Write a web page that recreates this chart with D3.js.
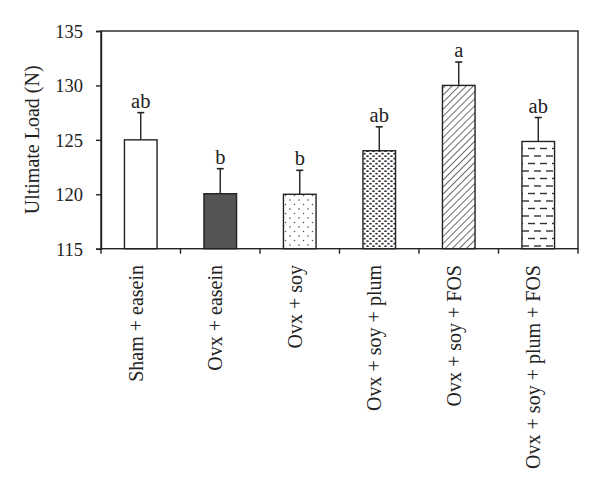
<!DOCTYPE html>
<html><head><meta charset="utf-8">
<script src="https://cdn.jsdelivr.net/npm/d3@7/dist/d3.min.js"></script>
<style>body{margin:0;background:#fff}svg{display:block}text{font-family:"Liberation Serif","Times New Roman",serif;fill:#222}</style>
</head><body><svg id="c" width="600" height="496"></svg>
<script>
const categories = ["Sham + easein","Ovx + easein","Ovx + soy","Ovx + soy + plum","Ovx + soy + FOS","Ovx + soy + plum + FOS"];
const values = [125.0, 120.05, 120.0, 124.0, 130.0, 124.85];
const errors = [2.5, 2.3, 2.2, 2.2, 2.15, 2.2];
const letters = ["ab","b","b","ab","a","ab"];
const yTicks = [115,120,125,130,135];
const fills = ["#ffffff","#555555","url(#pDots)","url(#pPlum)","url(#pHatch)","url(#pDash)"];

const svg = d3.select("#c");
const L=101, R=578, T=31, B=248.7;
const x = d3.scaleBand().domain(categories).range([L,R]).padding(0);
const y = d3.scaleLinear().domain([115,135]).range([B,T]);
const bw = x.bandwidth()*0.41;

const defs = svg.append("defs");
// sparse dots
let p = defs.append("pattern").attr("id","pDots").attr("patternUnits","userSpaceOnUse").attr("width",9).attr("height",9);
p.append("rect").attr("width",9).attr("height",9).attr("fill","#fff");
p.append("circle").attr("cx",2).attr("cy",2).attr("r",0.75).attr("fill","#333");
p.append("circle").attr("cx",6.5).attr("cy",6.5).attr("r",0.75).attr("fill","#555");
// dense plum pattern
p = defs.append("pattern").attr("id","pPlum").attr("patternUnits","userSpaceOnUse").attr("width",6).attr("height",5);
p.append("rect").attr("width",6).attr("height",5).attr("fill","#fff");
p.append("ellipse").attr("cx",1.5).attr("cy",1.2).attr("rx",1.3).attr("ry",0.9).attr("fill","#2a2a3a");
p.append("ellipse").attr("cx",4.5).attr("cy",3.7).attr("rx",1.3).attr("ry",0.9).attr("fill","#3a2a2a");
// diagonal hatch
p = defs.append("pattern").attr("id","pHatch").attr("patternUnits","userSpaceOnUse").attr("width",5).attr("height",5).attr("patternTransform","rotate(45)");
p.append("rect").attr("width",5).attr("height",5).attr("fill","#fff");
p.append("line").attr("x1",0).attr("y1",0).attr("x2",0).attr("y2",5).attr("stroke","#444").attr("stroke-width",1.6);
// dashes
p = defs.append("pattern").attr("id","pDash").attr("patternUnits","userSpaceOnUse").attr("width",12).attr("height",15).attr("x",L).attr("y",3);
p.append("rect").attr("width",12).attr("height",15).attr("fill","#fff");
p.append("line").attr("x1",1).attr("x2",8).attr("y1",3).attr("y2",3).attr("stroke","#333").attr("stroke-width",1.4);
p.append("line").attr("x1",7).attr("x2",14).attr("y1",10.5).attr("y2",10.5).attr("stroke","#333").attr("stroke-width",1.4);
p.append("line").attr("x1",-5).attr("x2",2).attr("y1",10.5).attr("y2",10.5).attr("stroke","#333").attr("stroke-width",1.4);

// frame
svg.append("rect").attr("x",L).attr("y",T).attr("width",R-L).attr("height",B-T).attr("fill","none").attr("stroke","#222").attr("stroke-width",1.4);

// y axis
const ya = svg.append("g").attr("transform",`translate(${L},0)`).call(d3.axisLeft(y).tickValues(yTicks).tickSize(5).tickPadding(13));
ya.select(".domain").attr("stroke","#222").attr("stroke-width",1.4);
ya.selectAll(".tick line").attr("stroke","#222").attr("stroke-width",1.4);
ya.selectAll(".tick text").attr("font-size",18.5).attr("font-family","Liberation Serif").attr("fill","#222").attr("dy","0.35em");

// x ticks at band boundaries
const bounds = categories.map(c=>x(c)).concat([R]);
svg.append("g").selectAll("line").data(bounds).join("line")
  .attr("x1",d=>d).attr("x2",d=>d).attr("y1",B).attr("y2",B+5).attr("stroke","#222").attr("stroke-width",1.4);

// bars
const g = svg.append("g");
categories.forEach((c,i)=>{
  const cx = x(c)+x.bandwidth()/2;
  g.append("rect").attr("x",cx-bw/2).attr("y",y(values[i])).attr("width",bw).attr("height",y(115)-y(values[i]))
    .attr("fill",fills[i]).attr("stroke","#222").attr("stroke-width",1.4);
  const et = y(values[i]+errors[i]);
  g.append("line").attr("x1",cx).attr("x2",cx).attr("y1",y(values[i])).attr("y2",et).attr("stroke","#222").attr("stroke-width",1.4);
  g.append("line").attr("x1",cx-3.5).attr("x2",cx+3.5).attr("y1",et).attr("y2",et).attr("stroke","#222").attr("stroke-width",1.6);
  g.append("text").attr("x",cx).attr("y",et-5).attr("text-anchor","middle").attr("font-size",20.5).text(letters[i]);
  svg.append("text").attr("transform",`translate(${cx+2},265) rotate(-90)`).attr("text-anchor","end").attr("font-size",20).text(c);
});

// y title
svg.append("text").attr("transform",`translate(39,${(T+B)/2}) rotate(-90)`).attr("text-anchor","middle").attr("font-size",20).text("Ultimate Load (N)");
</script></body></html>
